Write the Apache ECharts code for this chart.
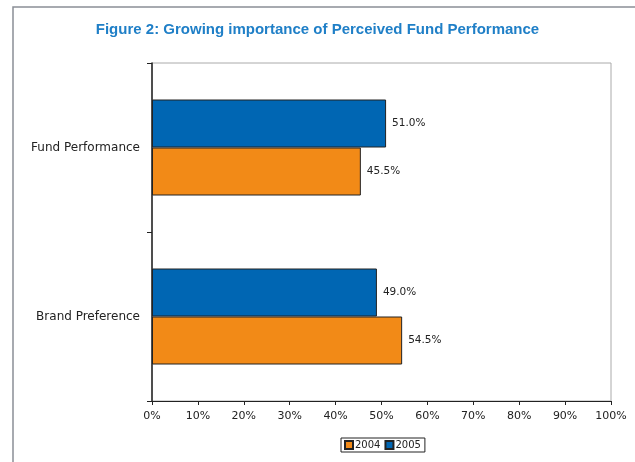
<!DOCTYPE html>
<html>
<head>
<meta charset="utf-8">
<script src="https://cdn.jsdelivr.net/npm/echarts@6/dist/echarts.min.js"></script>
<style>html,body{margin:0;padding:0;background:#fff;overflow:hidden;}#c{width:635px;height:462px;}</style>
</head>
<body>
<div id="c"></div>
<script>
const categories = ['Brand Preference', 'Fund Performance'];
const series2004 = [54.5, 45.5];
const series2005 = [49.0, 51.0];
const xTicks = [0, 10, 20, 30, 40, 50, 60, 70, 80, 90, 100];
const titleText = 'Figure 2: Growing importance of Perceived Fund Performance';

const chart = echarts.init(document.getElementById('c'), null, {renderer: 'canvas'});
const labelStyle = {
  show: true, position: 'right', distance: 6,
  fontFamily: 'DejaVu Sans', fontSize: 10.5, color: '#222',
  formatter: p => p.value.toFixed(1) + '%'
};
chart.setOption({
  animation: false,
  backgroundColor: '#fff',
  title: {
    text: titleText, left: 'center', top: 17,
    textStyle: {fontFamily: 'Liberation Sans', fontWeight: 'bold', fontSize: 15, color: '#1f7fc7'}
  },
  graphic: [{
    type: 'polyline', shape: {points: [[13, 470], [13, 7], [640, 7]]},
    style: {fill: 'none', stroke: '#8a8f96', lineWidth: 1.5}, silent: true, z: -1
  }, {
    type: 'rect', shape: {x: 152, y: 63, width: 459, height: 338},
    style: {fill: 'none', stroke: '#aaaaaa', lineWidth: 1}, silent: true, z: 0
  }],
  legend: {
    data: ['2004', '2005'], left: 341, top: 438,
    itemWidth: 8, itemHeight: 8, itemGap: 4,
    padding: [2, 4, 2, 3],
    borderColor: '#222', borderWidth: 1,
    textStyle: {fontFamily: 'DejaVu Sans', fontSize: 10, color: '#222', padding: [0, 0, 0, -3]},
    icon: 'rect'
  },
  grid: {left: 152, right: 24, top: 63, bottom: 61, containLabel: false},
  xAxis: {
    type: 'value', min: 0, max: 100, interval: 10,
    axisLine: {show: true, lineStyle: {color: '#222', width: 1}},
    axisTick: {show: true, length: 4, lineStyle: {color: '#222'}},
    splitLine: {show: false},
    axisLabel: {
      fontFamily: 'DejaVu Sans', fontSize: 11, color: '#222', margin: 10,
      formatter: v => xTicks.includes(v) ? v + '%' : ''
    }
  },
  yAxis: {
    type: 'category', data: categories,
    axisLine: {show: true, lineStyle: {color: '#222', width: 1.5}},
    axisTick: {show: true, length: 5, lineStyle: {color: '#222'}},
    axisLabel: {fontFamily: 'DejaVu Sans', fontSize: 12, color: '#222', margin: 12}
  },
  series: [{
    name: '2005', type: 'bar', data: series2005, barWidth: 48, barGap: '0%',
    itemStyle: {color: '#0066b3', borderColor: '#222', borderWidth: 1},
    label: labelStyle
  }, {
    name: '2004', type: 'bar', data: series2004, barWidth: 48, barGap: '0%',
    itemStyle: {color: '#f28a17', borderColor: '#222', borderWidth: 1},
    label: labelStyle
  }]
});
</script>
</body>
</html>
